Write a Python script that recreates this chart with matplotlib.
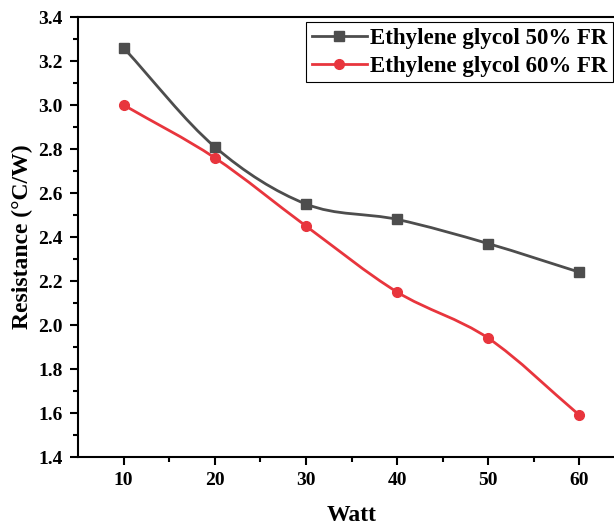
import numpy as np
import matplotlib.pyplot as plt
from matplotlib.path import Path
from matplotlib.patches import PathPatch

plt.rcParams['font.family'] = ['Liberation Serif', 'DejaVu Serif']
plt.rcParams['font.weight'] = 'bold'

# data
watt = [10, 20, 30, 40, 50, 60]
eg50 = [3.26, 2.81, 2.55, 2.48, 2.37, 2.24]
eg60 = [3.00, 2.76, 2.45, 2.15, 1.94, 1.59]
labels = ['Ethylene glycol 50% FR', 'Ethylene glycol 60% FR']
colors = ['#4d4d4d', '#e8353d']


def smooth_path(x, y):
    # Catmull-Rom through the points, drawn as cubic Bezier segments
    x = np.asarray(x, float)
    y = np.asarray(y, float)
    px = np.concatenate([[2 * x[0] - x[1]], x, [2 * x[-1] - x[-2]]])
    py = np.concatenate([[2 * y[0] - y[1]], y, [2 * y[-1] - y[-2]]])
    verts = [(x[0], y[0])]
    codes = [Path.MOVETO]
    for i in range(1, len(px) - 2):
        c1 = (px[i] + (px[i + 1] - px[i - 1]) / 6, py[i] + (py[i + 1] - py[i - 1]) / 6)
        c2 = (px[i + 1] - (px[i + 2] - px[i]) / 6, py[i + 1] - (py[i + 2] - py[i]) / 6)
        verts += [c1, c2, (px[i + 1], py[i + 1])]
        codes += [Path.CURVE4] * 3
    return Path(verts, codes)


fig = plt.figure(figsize=(6.14, 5.27), dpi=100)
ax = fig.add_axes([78 / 614, 1 - 457 / 527, (625 - 78) / 614, (457 - 17) / 527])

for ys, c, lab, m in zip([eg50, eg60], colors, labels, ['s', 'o']):
    ax.add_patch(PathPatch(smooth_path(watt, ys), facecolor='none', edgecolor=c, lw=2))
    ax.plot(watt, ys, ls='none', marker=m, color=c, ms=7)
    ax.plot([], [], color=c, lw=2, marker=m, ms=7, label=lab)

ax.set_xlim(5, 65)
ax.set_ylim(1.4, 3.4)
ax.set_xticks([10, 20, 30, 40, 50, 60])
ax.set_xticks([15, 25, 35, 45, 55], minor=True)
ax.set_yticks(np.arange(1.4, 3.41, 0.2))
ax.set_yticks(np.arange(1.5, 3.4, 0.2), minor=True)
ax.yaxis.set_major_formatter(plt.FormatStrFormatter('%.1f'))
ax.tick_params(which='major', direction='out', length=6, width=1.5, labelsize=14, pad=5)
ax.tick_params(which='minor', direction='out', length=3.5, width=1.5)
for s in ax.spines.values():
    s.set_linewidth(1.5)

ax.set_xlabel('Watt', fontsize=17, fontweight='bold', labelpad=11)
ax.set_ylabel('Resistance (°C/W)', fontsize=17, fontweight='bold', labelpad=4)

leg = ax.legend(loc='upper left', bbox_to_anchor=(306 / 614, 1 - 22 / 527),
                bbox_transform=fig.transFigure, borderaxespad=0, fancybox=False,
                framealpha=1, edgecolor='black', fontsize=16.5, handlelength=2.4,
                handletextpad=0.15, borderpad=0.25, labelspacing=0.3)
leg.get_frame().set_linewidth(0.8)

plt.savefig('out.png', dpi=100)
